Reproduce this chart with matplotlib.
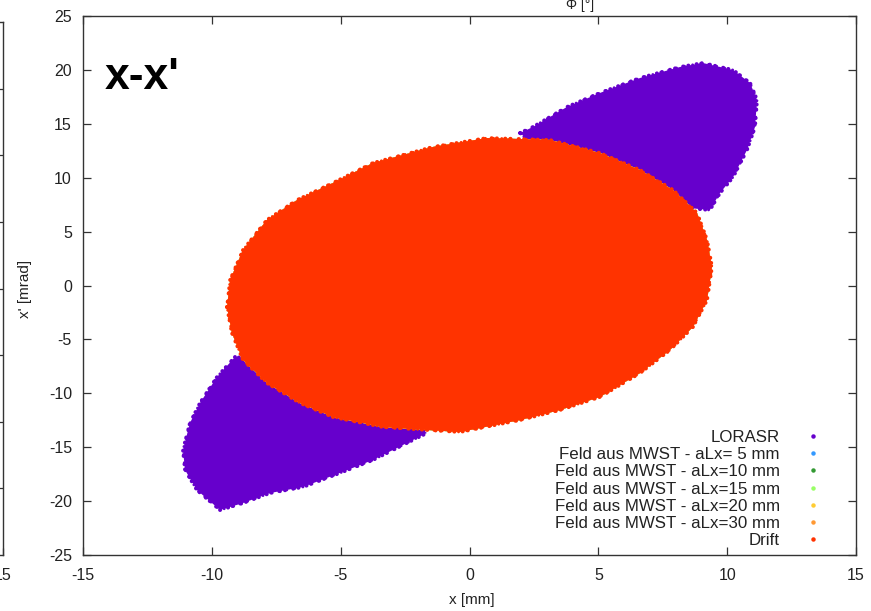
import matplotlib

matplotlib.use("Agg")
import matplotlib.pyplot as plt
from matplotlib.lines import Line2D

plt.rcParams["font.family"] = ["Liberation Sans", "DejaVu Sans"]
plt.rcParams["axes.unicode_minus"] = False

# outline of the Drift cloud (x [mm], x' [mrad]), clockwise from the left tip
drift_x = [-9.41, -9.29, -8.79, -7.86, -6.69, -5.30, -3.75, -1.42, 0.68, 3.12,
           5.06, 6.62, 7.90, 8.83, 9.22, 9.41, 9.22, 8.67, 7.78, 6.62,
           5.06, 3.51, 1.96, -0.37, -1.65, -3.36, -5.30, -6.58, -7.86, -8.79,
           -9.22]
drift_y = [-2.00, 0.51, 3.29, 6.08, 7.93, 9.51, 11.36, 12.85, 13.68, 13.50,
           12.29, 10.71, 8.86, 6.73, 4.22, 1.72, -1.35, -3.85, -5.98, -8.12,
           -10.34, -11.55, -12.48, -13.59, -13.40, -13.13, -12.20, -10.90, -9.05, -6.91,
           -4.41]

# LORASR cloud: upper and lower lobes sticking out of the Drift ellipse
lorasr_up_x = [1.96, 2.46, 3.78, 5.06, 6.62, 8.17, 9.06, 10.23, 10.89, 11.16,
               11.08, 10.77, 10.23, 9.72, 9.33, 5.0]
lorasr_up_y = [14.15, 14.70, 16.56, 17.86, 19.25, 20.27, 20.64, 19.99, 18.78, 17.21,
               14.70, 12.57, 10.06, 8.58, 7.00, 8.0]
lorasr_lo_x = [-9.10, -9.80, -10.46, -10.85, -11.12, -11.04, -10.58, -9.68, -8.79, -7.74,
               -6.46, -5.03, -3.75, -2.43, -1.65, -5.0]
lorasr_lo_y = [-6.63, -8.49, -10.90, -12.76, -15.26, -17.12, -18.97, -20.83, -20.18, -19.25,
               -18.69, -17.39, -16.19, -14.61, -13.68, -8.0]

labels = ["LORASR",
          "Feld aus MWST - aLx= 5 mm",
          "Feld aus MWST - aLx=10 mm",
          "Feld aus MWST - aLx=15 mm",
          "Feld aus MWST - aLx=20 mm",
          "Feld aus MWST - aLx=30 mm",
          "Drift"]
colors = ["#6600cc", "#3399ff", "#339933", "#99ff66", "#ffcc33", "#ff9933", "#ff3300"]

xticks = [-15, -10, -5, 0, 5, 10, 15]
yticks = [-25, -20, -15, -10, -5, 0, 5, 10, 15, 20, 25]

TXT = "#222222"
SPINE = "#333333"


def cloud(ax, xs, ys, color, z):
    """Filled particle cloud with a speckled rim."""
    ax.fill(xs, ys, color=color, lw=0, zorder=z)
    ring_x, ring_y = xs + xs[:1], ys + ys[:1]
    ax.plot(ring_x, ring_y, color=color, lw=2.8, zorder=z,
            ls=(0, (0.05, 1.3, 0.05, 2.1)), dash_capstyle="round")
    ax.plot(ring_x, ring_y, color=color, lw=2.0, zorder=z,
            ls=(0.7, (0.05, 2.9)), dash_capstyle="round")


fig = plt.figure(figsize=(8.71, 6.11), dpi=100)

# edge of the neighbouring panel, cut off at the left border
ax0 = fig.add_axes([3 / 871 - 0.8, 1 - 555 / 611, 0.8, 533 / 611])
ax0.set_xlim(-15, 15)
ax0.set_ylim(0, 8)
ax0.set_xticks([15])
ax0.set_xticklabels(["15"])
ax0.set_yticks(range(1, 8))
ax0.set_yticklabels([])
ax0.tick_params(direction="in", right=True, left=False, length=5, width=0.9,
                colors=SPINE, labelcolor=TXT, labelsize=11.5, pad=9)
for s in ax0.spines.values():
    s.set_color(SPINE)
    s.set_linewidth(1.0)

ax = fig.add_axes([83 / 871, 1 - 555 / 611, 773 / 871, 539 / 611])

# LORASR below everything, then the MWST field runs, Drift on top
cloud(ax, lorasr_up_x, lorasr_up_y, colors[0], 2)
cloud(ax, lorasr_lo_x, lorasr_lo_y, colors[0], 2)
for i, c in enumerate(colors[1:6]):
    ax.fill(drift_x, drift_y, color=c, lw=0, zorder=3 + i)
cloud(ax, drift_x, drift_y, colors[6], 10)

ax.set_xlim(-15, 15)
ax.set_ylim(-25, 25)
ax.set_xticks(xticks)
ax.set_yticks(yticks)
ax.tick_params(direction="in", top=True, right=True, length=5.5, width=0.9,
               colors=SPINE, labelcolor=TXT, labelsize=11.5)
ax.tick_params(axis="x", pad=9)
ax.tick_params(axis="y", pad=8)
for s in ax.spines.values():
    s.set_color(SPINE)
    s.set_linewidth(1.0)

ax.set_xlabel("x [mm]", fontsize=11, color=TXT)
ax.xaxis.set_label_coords((472 - 83) / 773, (555 - 593) / 539)
fig.text(25 / 871, 1 - 289 / 611, "x' [mrad]", rotation=90, ha="center",
         va="center", fontsize=11, color=TXT)
fig.text(580 / 871, 1 - 12 / 611, "\u03a6 [\u00b0]", ha="center", va="bottom",
         fontsize=10, color=TXT)

ax.text(-14.15, 19.3, "x-x'", fontsize=32, fontweight="bold", color="black",
        ha="left", va="center")

handles = [Line2D([], [], ls="none", marker="o", markersize=2.2,
                  markerfacecolor=c, markeredgecolor=c) for c in colors]
leg = ax.legend(handles, labels, loc="lower right", markerfirst=False,
                frameon=False, fontsize=12.2, labelspacing=0.13,
                handlelength=2.0, handletextpad=0.95,
                bbox_to_anchor=(0.975, 0.0), borderaxespad=0.0)
for t in leg.get_texts():
    t.set_color(TXT)

fig.savefig("out.png", dpi=100)
